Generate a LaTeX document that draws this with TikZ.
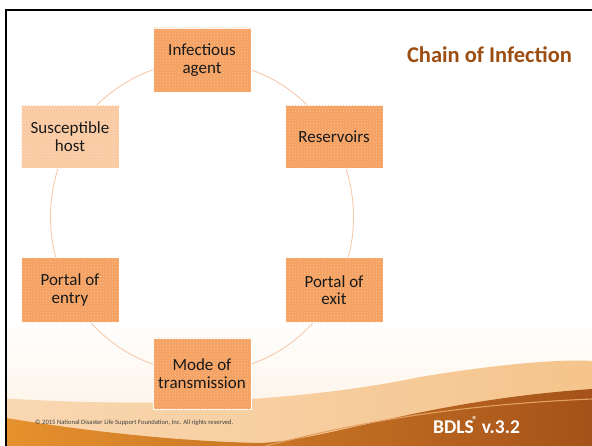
\documentclass[tikz,border=0pt]{standalone}
\usepackage{fontspec}
\setmainfont{Carlito}
\usetikzlibrary{patterns}

\definecolor{boxorange}{RGB}{245,160,96}
\definecolor{boxdots}{RGB}{249,196,150}
\definecolor{boxpeach}{RGB}{251,202,162}
\definecolor{boxpeachdots}{RGB}{253,220,190}
\definecolor{ringcol}{RGB}{247,196,165}
\definecolor{titlebrown}{RGB}{156,78,18}
\definecolor{creamy}{RGB}{252,240,224}
\definecolor{peachwave}{RGB}{245,196,140}
\definecolor{peachwaveL}{RGB}{249,216,178}
\definecolor{bandorange}{RGB}{230,146,46}
\definecolor{bandbrown}{RGB}{165,82,26}
\definecolor{bandline}{RGB}{226,160,98}

\tikzset{
  stagebox/.style={draw=white, line width=0.6pt, fill=boxorange,
    postaction={pattern=crosshatch dots, pattern color=boxdots},
    minimum width=98pt, minimum height=63pt, inner sep=2pt, align=center,
    font=\fontsize{17}{17.5}\selectfont, text=black!90},
  hostbox/.style={stagebox, fill=boxpeach,
    postaction={pattern=crosshatch dots, pattern color=boxpeachdots}},
  ringline/.style={draw=ringcol, line width=0.8pt},
}

\begin{document}
\begin{tikzpicture}[x=1pt,y=-1pt]
\useasboundingbox (0,0) rectangle (592,446);
\fill[white] (0,0) rectangle (592,446);

% footer waves
\begin{scope}
  \clip (6,10) rectangle (592,446);
  \shade[top color=white, bottom color=creamy] (0,320) rectangle (592,446);
  \shade[left color=peachwaveL, right color=peachwave]
    (0,398) .. controls (150,408) and (300,402) .. (420,377)
    .. controls (500,364) and (560,359) .. (592,361)
    -- (592,446) -- (0,446) -- cycle;
  \shade[left color=bandorange, right color=bandbrown]
    (0,417) .. controls (60,427) and (160,441) .. (260,443)
    .. controls (330,440) and (420,401) .. (592,389)
    -- (592,446) -- (0,446) -- cycle;
  \draw[bandline, line width=1.1pt]
    (262,447) .. controls (350,424) and (450,405) .. (592,399);
\end{scope}

% frame
\draw[black, line width=2.4pt] (6,447) -- (6,10) -- (593,10);

% ring behind the stages
\draw[ringline] (202,217) ellipse [x radius=151.5pt, y radius=155.5pt];

% stages of the chain
\node[stagebox, minimum height=64pt] (agent) at (202,60) {Infectious\\agent};
\node[stagebox] (reservoirs) at (334,136.5) {Reservoirs};
\node[stagebox, minimum height=65pt] (exit) at (334,290) {Portal of\\exit};
\node[stagebox, minimum height=71pt] (mode) at (202,373.5) {Mode of\\transmission};
\node[stagebox, minimum height=65pt] (entry) at (70,290) {Portal of\\entry};
\node[hostbox] (host) at (70,136.5) {Susceptible\\host};

% title and footer text
\node[text=titlebrown, font=\fontsize{22.5}{24}\selectfont\bfseries] (title) at (489.5,55) {Chain of Infection};
\node[anchor=west, text=black!75, font=\fontsize{6.6}{7}\selectfont, inner sep=0pt] (copy) at (35,423) {\textcopyright{} 2015 National Disaster Life Support Foundation, Inc. All rights reserved.};
\node[anchor=west, text=white, font=\fontsize{19.5}{21}\selectfont\bfseries, inner sep=0pt] (version) at (433,425) {BDLS\kern-1.5pt\raisebox{0.55em}{\fontsize{10}{10}\selectfont\textregistered}\ v.3.2};
\end{tikzpicture}
\end{document}
